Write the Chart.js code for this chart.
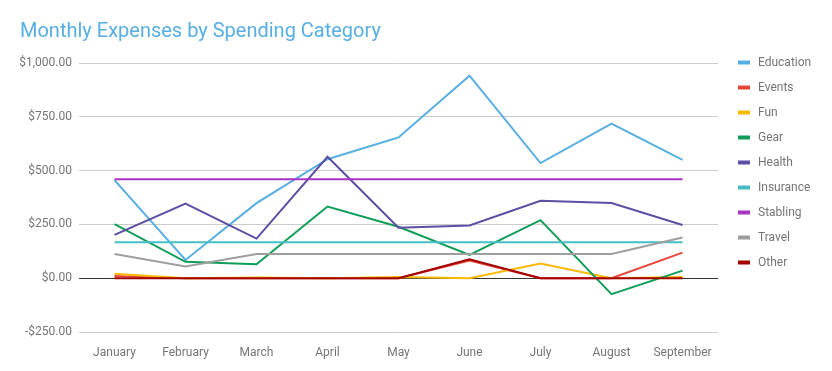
<!DOCTYPE html>
<html>
<head>
<meta charset="utf-8">
<script src="https://cdn.jsdelivr.net/npm/chart.js@4"></script>
<style>
  html, body { margin: 0; padding: 0; background: #fff; }
  #wrap { width: 832px; height: 371px; }
</style>
</head>
<body>
<div id="wrap"><canvas id="expensesChart"></canvas></div>
<script>
const months = ['January', 'February', 'March', 'April', 'May', 'June', 'July', 'August', 'September'];
const categories = ['Education', 'Events', 'Fun', 'Gear', 'Health', 'Insurance', 'Stabling', 'Travel', 'Other'];

const education = [456, 85, 349, 553, 654, 941, 535, 718, 550];
const events = [10, 0, 0, 0, 0, 82, 0, 0, 119];
const fun = [21, 0, 3, 0, 5, 0, 68, 0, 5];
const gear = [251, 76, 65, 333, 239, 108, 270, -74, 35];
const health = [201, 347, 184, 564, 235, 245, 360, 349, 247];
const insurance = [167, 167, 167, 167, 167, 167, 167, 167, 167];
const stabling = [460, 460, 460, 460, 460, 460, 460, 460, 460];
const travel = [112, 54, 112, 112, 112, 112, 112, 112, 189];
const other = [0, 0, 0, 0, 0, 88, 0, 0, 0];

const seriesValues = [education, events, fun, gear, health, insurance, stabling, travel, other];
const palette = ['#57aee2', '#e6463a', '#f9b905', '#0f9d58', '#5c4ea3', '#45bfc4', '#ab33c6', '#9e9e9e', '#a30000'];

const yTicks = [-250, 0, 250, 500, 750, 1000];

function money(v) {
  const s = '$' + Math.abs(v).toLocaleString('en-US', { minimumFractionDigits: 2, maximumFractionDigits: 2 });
  return v < 0 ? '-' + s : s;
}

// legend drawn at the right, one row every 25px
const sideLegend = {
  id: 'sideLegend',
  afterDraw(chart) {
    const ctx = chart.ctx;
    ctx.save();
    ctx.font = '12px Roboto';
    ctx.textBaseline = 'middle';
    ctx.textAlign = 'left';
    chart.data.datasets.forEach((ds, i) => {
      const y = 62.5 + i * 25;
      ctx.fillStyle = ds.borderColor;
      ctx.fillRect(738, y - 2, 12, 4);
      ctx.fillStyle = '#757575';
      ctx.fillText(ds.label, 758, y);
    });
    ctx.restore();
  }
};

new Chart(document.getElementById('expensesChart'), {
  type: 'line',
  data: {
    labels: months,
    datasets: categories.map((name, i) => ({
      label: name,
      data: seriesValues[i],
      borderColor: palette[i],
      backgroundColor: palette[i],
      borderWidth: 2,
      pointRadius: 0,
      pointHoverRadius: 0,
      tension: 0,
      order: categories.length - i
    }))
  },
  options: {
    responsive: true,
    maintainAspectRatio: false,
    animation: false,
    layout: { padding: { left: 20, right: 114, top: 0, bottom: 0 } },
    plugins: {
      legend: { display: false },
      tooltip: { enabled: false },
      title: {
        display: true,
        text: 'Monthly Expenses by Spending Category',
        align: 'start',
        color: '#57aee2',
        font: { family: 'Roboto', size: 20, weight: 'normal' },
        padding: { top: 20, bottom: 19 }
      }
    },
    scales: {
      x: {
        offset: true,
        grid: { display: false },
        border: { display: false },
        ticks: { color: '#757575', font: { family: 'Roboto', size: 12 }, padding: 6, maxRotation: 0 },
        afterFit(scale) { scale.height = 39; }
      },
      y: {
        min: -250,
        max: 1000,
        afterBuildTicks(scale) { scale.ticks = yTicks.map(v => ({ value: v })); },
        grid: {
          drawTicks: false,
          color: (c) => (c.tick && c.tick.value === 0 ? '#333333' : '#cccccc'),
          lineWidth: 1
        },
        border: { display: false },
        ticks: {
          color: '#757575',
          font: { family: 'Roboto', size: 12 },
          padding: 7,
          callback: (v) => money(v)
        },
        afterFit(scale) { scale.width = 59; }
      }
    }
  },
  plugins: [sideLegend]
});
</script>
</body>
</html>
